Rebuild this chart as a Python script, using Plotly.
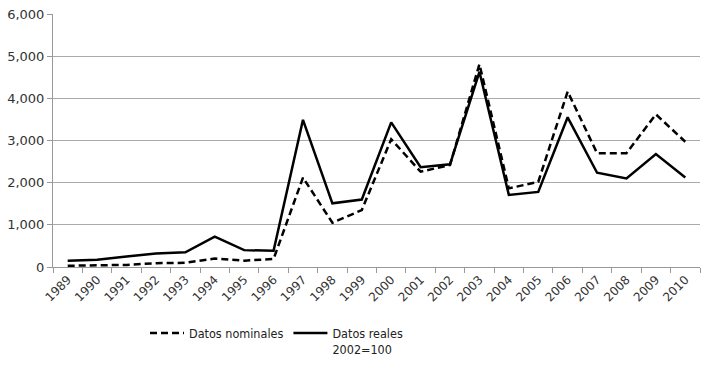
import plotly.graph_objects as go

years = [str(y) for y in range(1989, 2011)]
nominales = [30, 35, 50, 90, 100, 200, 150, 190, 2120, 1050, 1350, 3030, 2260, 2420,
             4810, 1865, 2020, 4160, 2700, 2700, 3620, 2970]
reales = [150, 170, 250, 320, 350, 720, 400, 385, 3490, 1510, 1600, 3430, 2365, 2435,
          4630, 1710, 1780, 3550, 2235, 2100, 2680, 2125]
y_ticks = [0, 1000, 2000, 3000, 4000, 5000, 6000]

fig = go.Figure()
fig.add_trace(go.Scatter(x=years, y=nominales, mode="lines", name="Datos nominales",
                         line=dict(color="black", width=2.5, dash="7px,4px")))
fig.add_trace(go.Scatter(x=years, y=reales, mode="lines", name="Datos reales<br>2002=100",
                         line=dict(color="black", width=2.5)))

fig.update_layout(
    width=709, height=366,
    margin=dict(l=53, r=9, t=14, b=99, autoexpand=False),
    plot_bgcolor="white", paper_bgcolor="white",
    font=dict(family="DejaVu Sans", size=12, color="#333333"),
    showlegend=True,
    legend=dict(orientation="h", x=0.39, xref="container", xanchor="center",
                y=0.13, yref="container", yanchor="top",
                font=dict(family="DejaVu Sans Condensed", size=12.5, color="#222"),
                itemwidth=34, tracegroupgap=0, valign="top"),
)
fig.update_xaxes(type="category", range=[-0.5, 21.5], showline=True, linecolor="#999999", linewidth=1,
                 ticks="outside", tickson="boundaries", ticklen=5, tickcolor="#999999",
                 tickangle=-45, showgrid=False, automargin=False,
                 tickfont=dict(family="DejaVu Sans", size=12, color="#333"))
fig.update_yaxes(range=[0, 6000], tickvals=y_ticks, tickformat=",", showline=True,
                 linecolor="#999999", linewidth=1, ticks="outside", ticklen=5,
                 tickcolor="#999999", showgrid=True, gridcolor="#aaaaaa", gridwidth=1,
                 zeroline=False, automargin=False,
                 tickfont=dict(family="DejaVu Sans", size=13, color="#333"))

fig.write_html("out.html", config={"displayModeBar": False},
               post_script="document.body.style.margin='0px';document.body.style.overflow='hidden';")
